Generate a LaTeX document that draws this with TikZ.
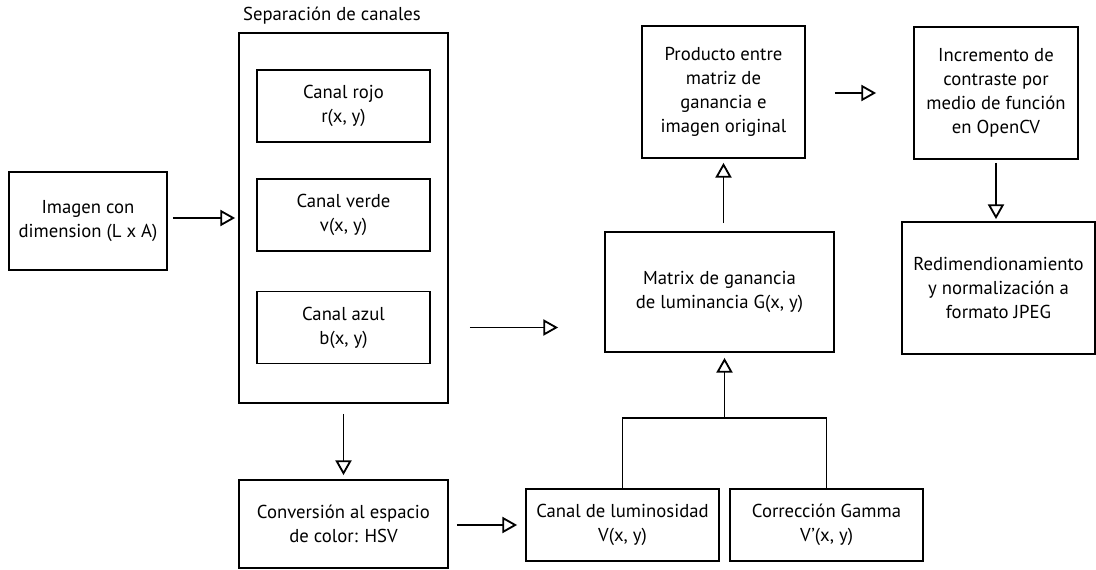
\documentclass[tikz,border=0pt]{standalone}
\usepackage{fontspec}
\setmainfont{PT Sans}
\usetikzlibrary{arrows.meta, positioning, calc}

\begin{document}
\begin{tikzpicture}[
    caja/.style={draw, line width=1.3pt, align=center, inner sep=2pt,
      font=\fontsize{13.3}{17}\selectfont},
    flecha/.style={line width=1.3pt, -{Triangle[open, length=10.5pt, width=11.5pt]}}
  ]
  \useasboundingbox (0,0) rectangle (27.4,14.225);
  % Imagen de entrada
  \node[caja, minimum width=3.95cm, minimum height=2.45cm] (imagen)
    at (2.2,8.7) {Imagen con\\dimension (L x A)};
  % Separacion de canales
  \node[caja, minimum width=5.225cm, minimum height=9.25cm] (canales)
    at (8.5875,8.775) {};
  \node[font=\fontsize{13.3}{17}\selectfont] (titulo) at (8.3,13.825)
    {Separación de canales};
  \node[caja, minimum width=4.325cm, minimum height=1.8cm] (rojo)
    at (8.5875,11.575) {Canal rojo\\r(x, y)};
  \node[caja, minimum width=4.325cm, minimum height=1.8cm] (verde)
    at (8.5875,8.85) {Canal verde\\v(x, y)};
  \node[caja, minimum width=4.325cm, minimum height=1.8cm] (azul)
    at (8.5875,6.0375) {Canal azul\\b(x, y)};
  % Conversion a HSV
  \node[caja, minimum width=5.225cm, minimum height=2.2cm] (hsv)
    at (8.5875,1.125) {Conversión al espacio\\de color: HSV};
  \node[caja, minimum width=4.825cm, minimum height=1.8cm] (lum)
    at (15.5625,1.1) {Canal de luminosidad\\V(x, y)};
  \node[caja, minimum width=4.825cm, minimum height=1.8cm] (gamma)
    at (20.6625,1.1) {Corrección Gamma\\V’(x, y)};
  % Ganancia y producto
  \node[caja, minimum width=5.725cm, minimum height=3cm] (ganancia)
    at (17.9875,6.925) {Matrix de ganancia\\de luminancia G(x, y)};
  \node[caja, minimum width=4.075cm, minimum height=3.3cm] (producto)
    at (18.0875,11.925) {Producto entre\\matriz de\\ganancia e\\imagen original};
  % Contraste y salida
  \node[caja, minimum width=4.1cm, minimum height=3.3cm] (contraste)
    at (24.9,11.9) {Incremento de\\contraste por\\medio de función\\en OpenCV};
  \node[caja, minimum width=4.825cm, minimum height=3.3cm] (salida)
    at (24.9625,7.025) {Redimendionamiento\\y normalización a\\formato JPEG};
  % Conexiones
  \draw[flecha, shorten <=0.125cm, shorten >=0.075cm]
    (imagen.east |- canales) -- (canales.west);
  \draw[flecha, shorten <=0.525cm, shorten >=1.15cm]
    (azul -| canales.east) -- (azul -| ganancia.west);
  \draw[flecha, shorten <=0.25cm, shorten >=0.1cm]
    (canales.south) -- (hsv.north);
  \draw[flecha, shorten <=0.2cm, shorten >=0.2cm]
    (hsv.east |- lum) -- (lum.west);
  \coordinate (union) at ($(lum.north)!0.5!(gamma.north) + (0,1.75)$);
  \draw[line width=1.3pt] (lum.north) |- (union) -| (gamma.north);
  \draw[flecha, shorten >=0.125cm] (union) -- (union |- ganancia.south);
  \draw[flecha, shorten <=0.2cm, shorten >=0.1cm]
    (producto.south |- ganancia.north) -- (producto.south);
  \draw[flecha, shorten <=0.725cm, shorten >=0.925cm]
    (producto.east |- contraste) -- (contraste.west);
  \draw[flecha, shorten <=0.075cm, shorten >=0.05cm]
    (contraste.south) -- (contraste.south |- salida.north);
\end{tikzpicture}
\end{document}
